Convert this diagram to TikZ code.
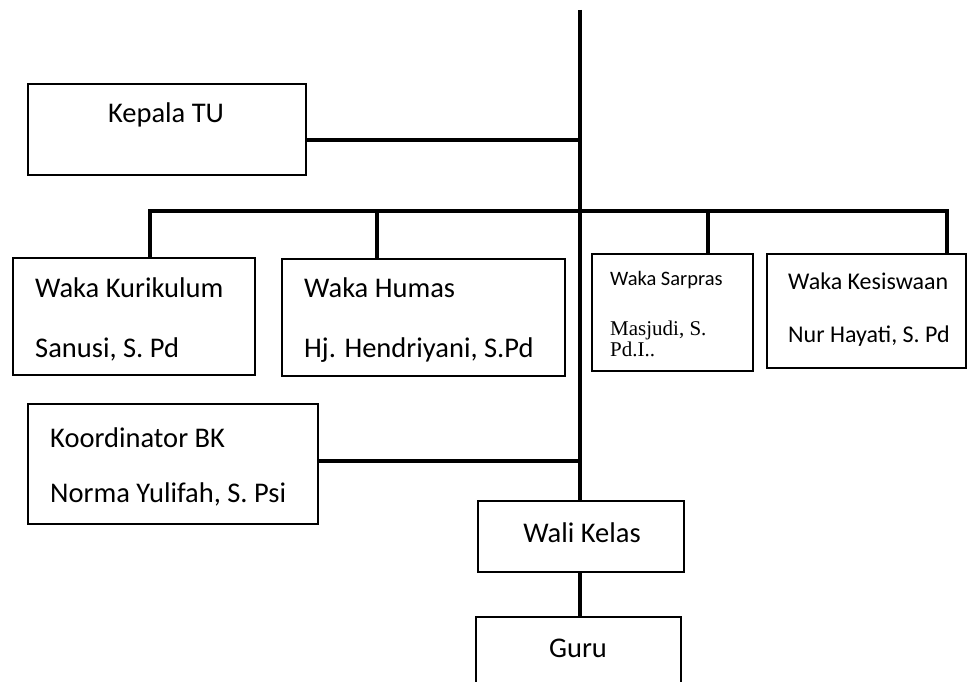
\documentclass[tikz,border=0pt]{standalone}
\usepackage{fontspec}
\setmainfont{Carlito}
\newfontfamily\tnr{Liberation Serif}
\begin{document}
\begin{tikzpicture}[x=1pt,y=-1pt,
  box/.style={draw, line width=1.6pt, inner sep=0pt, outer sep=0pt, rectangle},
  conn/.style={line width=3.6pt},
  lbl/.style={inner sep=0pt, anchor=base west},
  clbl/.style={inner sep=0pt, anchor=base},
  big/.style={font=\fontsize{28.5}{32}\selectfont},
  mid/.style={font=\fontsize{24}{28}\selectfont},
  sml/.style={font=\fontsize{20.5}{24}\selectfont},
  tms/.style={font=\fontsize{21}{24}\tnr}]
\clip (0,0) rectangle (971,682);
% boxes
\node[box, minimum width=278pt, minimum height=91pt] (kepala) at (167,129.5) {};
\node[box, minimum width=242pt, minimum height=117pt] (kur) at (134,316.5) {};
\node[box, minimum width=283pt, minimum height=117pt] (humas) at (423.5,317.5) {};
\node[box, minimum width=161pt, minimum height=117pt] (sarpras) at (672.5,312.5) {};
\node[box, minimum width=199pt, minimum height=114pt] (kesis) at (866.5,311) {};
\node[box, minimum width=290pt, minimum height=120pt] (bk) at (173,464) {};
\node[box, minimum width=206pt, minimum height=71pt] (wali) at (581,536.5) {};
\node[box, minimum width=205pt, minimum height=80pt] (guru) at (578.5,657) {};
% texts
\node[big, clbl] (tkepala) at (166,123) {Kepala TU};
\node[big, lbl] (tkur1) at (35,297) {Waka Kurikulum};
\node[big, lbl] (tkur2) at (35,357) {Sanusi, S. Pd};
\node[big, lbl] (thum1) at (304,297) {Waka Humas};
\node[big, lbl] (thum2) at (304,357) {Hj. Hendriyani, S.Pd};
\node[sml, lbl] (tsar1) at (610,285) {Waka Sarpras};
\node[tms, lbl] (tsar2) at (610,335) {Masjudi, S.};
\node[tms, lbl] (tsar3) at (610,356) {Pd.I..};
\node[mid, lbl] (tkes1) at (788,289) {Waka Kesiswaan};
\node[mid, lbl] (tkes2) at (788,342) {Nur Hayati, S. Pd};
\node[big, lbl] (tbk1) at (50,447) {Koordinator BK};
\node[big, lbl] (tbk2) at (50,502) {Norma Yulifah, S. Psi};
\node[big, clbl] (twali) at (582,542) {Wali Kelas};
\node[big, clbl] (tguru) at (578,657) {Guru};
% junctions
\coordinate (top) at (580,10);
\coordinate (j1) at (580,140);
\coordinate (barL) at (150,211);
\coordinate (barR) at (947,211);
\coordinate (d2) at (377,211);
\coordinate (d3) at (708,211);
\coordinate (j2) at (578,461);
% connectors
\draw[conn] (top) -- (top |- wali.north);
\draw[conn] (kepala.east |- j1) -- (j1);
\draw[conn, line cap=rect] (barL) -- (barR);
\draw[conn] (barL) -- (barL |- kur.north);
\draw[conn] (d2) -- (d2 |- humas.north);
\draw[conn] (d3) -- (d3 |- sarpras.north);
\draw[conn] (barR) -- (barR |- kesis.north);
\draw[conn] (bk.east |- j2) -- (j2);
\draw[conn] (wali.south -| top) -- (guru.north -| top);
\end{tikzpicture}
\end{document}
